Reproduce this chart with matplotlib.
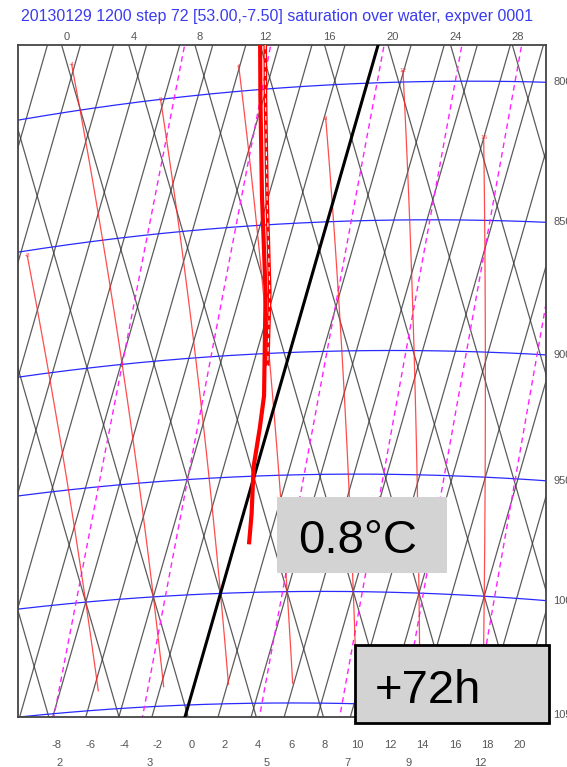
import numpy as np
import matplotlib
matplotlib.use("Agg")
import matplotlib.pyplot as plt
from matplotlib.patches import Rectangle

plt.rcParams['font.family'] = ['Liberation Sans', 'DejaVu Sans']

# ---------------- data ----------------
TITLE = "20130129 1200 step 72 [53.00,-7.50] saturation over water, expver 0001"
isobar_values = [800, 850, 900, 950, 1000, 1050]
isobar_labels = ["800", "850", "900", "950", "1000", "1050"]
isotherm_values = list(range(-60, 62, 2))          # grid isotherms (degC)
dry_adiabat_values = list(range(-48, 80, 4))       # grid dry adiabats, theta (degC)
theta_label_values = [0, 4, 8, 12, 16, 20, 24, 28]
temp_label_values = [-8, -6, -4, -2, 0, 2, 4, 6, 8, 10, 12, 14, 16, 18, 20]
mixing_ratio_values = [2, 3, 5, 7, 9, 12]          # g/kg
sat_adiabat_values = [-8, -4, 0, 4, 8, 12, 16]     # theta_w (degC)
sat_adiabat_top_p = [852, 783, 800, 791, 812, 796, 820]
sat_adiabat_bottom_p = 1041
# solid thick profile
profile_p = [775, 803, 839, 876, 917, 930, 946, 966, 979]
profile_t = [-7.6, -6.2, -4.4, -2.5, -0.8, -0.5, -0.2, 0.5, 0.87]
# dashed thick profile (upper part, slightly warmer)
profile2_p = [775, 803, 839, 876, 905]
profile2_t = [-7.3, -5.9, -4.1, -2.25, -1.1]
freezing_t = 0.0
surface_text = "0.8°C"
step_text = "+72h"

# ---------------- tephigram geometry ----------------
A_T, B_PHI, C_T, D_PHI = 8.3, 8.42, -28.65, 29.3
X0, Y0 = 202.5, 123.6


def phi_of(T, p):
    TK = np.asarray(T, float) + 273.15
    theta = TK * (1000.0 / np.asarray(p, float)) ** 0.2857
    return 273.15 * np.log(theta / 273.15)


def phi_theta(theta_c):
    return 273.15 * np.log((theta_c + 273.15) / 273.15)


def xy_tphi(T, phi):
    T = np.asarray(T, float)
    phi = np.asarray(phi, float)
    return X0 + A_T * T + B_PHI * phi, Y0 + C_T * T + D_PHI * phi


def xy(T, p):
    return xy_tphi(T, phi_of(T, p))


def dewpoint_from_w(w, p):
    es = w * np.asarray(p, float) / (622.0 + w)
    l = np.log(es / 6.112)
    return 243.5 * l / (17.67 - l)


def moist_profile(tw, p_out):
    def f(TK, p):
        es = 6.112 * np.exp(17.67 * (TK - 273.15) / (TK - 29.65))
        rs = 0.622 * es / (p - es)
        num = 287.04 * TK + 2.501e6 * rs
        den = 1005.7 + (2.501e6 ** 2) * rs * 0.622 / (287.04 * TK ** 2)
        return num / den / p

    def integrate(p_end):
        TK, p = tw + 273.15, 1000.0
        n = max(int(abs(p_end - 1000.0) / 1.0), 1)
        h = (p_end - 1000.0) / n
        for _ in range(n):
            k1 = f(TK, p)
            k2 = f(TK + h * k1 / 2, p + h / 2)
            k3 = f(TK + h * k2 / 2, p + h / 2)
            k4 = f(TK + h * k3, p + h)
            TK += h * (k1 + 2 * k2 + 2 * k3 + k4) / 6
            p += h
        return TK - 273.15

    return np.array([integrate(pp) for pp in p_out])


W, H = 567, 767
L, R, TOP, BOT = 18, 546, 45, 717
fig = plt.figure(figsize=(W / 100, H / 100), dpi=100)
ax = fig.add_axes([L / W, 1 - BOT / H, (R - L) / W, (BOT - TOP) / H])
XMAX, YMAX = R - L, BOT - TOP
ax.set_xlim(0, XMAX)
ax.set_ylim(0, YMAX)
ax.set_xticks([])
ax.set_yticks([])
for s in ax.spines.values():
    s.set_color('#444444')
    s.set_linewidth(1.3)

PX = 0.72  # points per pixel
LABEL_FS = 8
LABEL_C = '#555555'

# isotherms
phi_span = np.array([-80.0, 80.0])
for T in isotherm_values:
    x, y = xy_tphi(np.full(2, T), phi_span)
    ax.plot(x, y, color='#333333', lw=0.9, alpha=0.8, zorder=1)
# dry adiabats
t_span = np.array([-90.0, 70.0])
for th in dry_adiabat_values:
    x, y = xy_tphi(t_span, np.full(2, phi_theta(th)))
    ax.plot(x, y, color='#333333', lw=0.9, alpha=0.8, zorder=1)

# isobars
t_grid = np.linspace(-60, 50, 400)
for pv, lab in zip(isobar_values, isobar_labels):
    x, y = xy(t_grid, np.full_like(t_grid, pv))
    ax.plot(x, y, color='#2a2aff', lw=0.9, zorder=2)
    yr = np.interp(XMAX, x, y)
    ax.annotate(lab, (XMAX, yr), xytext=(7 * PX, 0), textcoords='offset points',
                ha='left', va='center', fontsize=LABEL_FS, color=LABEL_C,
                annotation_clip=False)

# mixing ratio lines
p_grid = np.linspace(700, 1100, 200)
for w in mixing_ratio_values:
    td = dewpoint_from_w(w, p_grid)
    x, y = xy(td, p_grid)
    ax.plot(x, y, color='#ff22ff', lw=1.0, ls=(0, (4, 3)), zorder=2)
    tb = dewpoint_from_w(w, 1050.0)
    xb, _ = xy(tb, 1050.0)
    ax.annotate(str(w), (xb, 0), xytext=(5 * PX, -46 * PX), textcoords='offset points',
                ha='center', va='center', fontsize=LABEL_FS, color=LABEL_C,
                annotation_clip=False)

# saturated adiabats
for tw, ptop in zip(sat_adiabat_values, sat_adiabat_top_p):
    pp = np.linspace(ptop, sat_adiabat_bottom_p, 60)
    tt = moist_profile(tw, pp)
    x, y = xy(tt, pp)
    ax.plot(x, y, color='#ff2020', lw=0.9, alpha=0.8, zorder=3)
    ax.text(x[0], y[0], str(tw), color='#ff2020', fontsize=4.5, ha='center',
            va='center', zorder=3, clip_on=True, alpha=0.8)

# freezing isotherm
x, y = xy_tphi(np.full(2, freezing_t), phi_span)
ax.plot(x, y, color='black', lw=2.2, zorder=4)

# temperature profiles
x, y = xy(np.array(profile_t), np.array(profile_p))
ax.plot(x, y, color='#ff0000', lw=3.0, zorder=5, solid_capstyle='butt')
x2, y2 = xy(np.array(profile2_t), np.array(profile2_p))
ax.plot(x2, y2, color='#ff0000', lw=2.6, zorder=5, solid_capstyle='butt')
ax.plot(x2, y2, color='white', lw=0.8, ls=(0, (4, 4)), zorder=6)

# theta labels along top
for th in theta_label_values:
    ph = phi_theta(th)
    T = (YMAX - Y0 - D_PHI * ph) / C_T
    xt, _ = xy_tphi(T, ph)
    ax.annotate(str(th), (xt, YMAX), xytext=(5 * PX, 8 * PX), textcoords='offset points',
                ha='center', va='center', fontsize=LABEL_FS, color=LABEL_C,
                annotation_clip=False)

# temperature labels along bottom
for T in temp_label_values:
    xb, _ = xy(T, 1050.0)
    ax.annotate(str(T), (xb, 0), xytext=(3 * PX, -28 * PX), textcoords='offset points',
                ha='center', va='center', fontsize=LABEL_FS, color=LABEL_C,
                annotation_clip=False)

fig.text(277 / W, 1 - 17 / H, TITLE, ha='center', va='center', fontsize=11.5,
         color='#3b3bef')

# overlay boxes
fig.add_artist(Rectangle((277 / W, 1 - 573 / H), 170 / W, 76 / H,
                         transform=fig.transFigure, facecolor='#d3d3d3',
                         edgecolor='none', zorder=10))
fig.text(298 / W, 1 - 553 / H, surface_text, fontsize=34, ha='left', va='baseline',
         color='black', zorder=11)
fig.add_artist(Rectangle((355 / W, 1 - 723 / H), 194 / W, 78 / H,
                         transform=fig.transFigure, facecolor='#d3d3d3',
                         edgecolor='black', lw=2, zorder=10))
fig.text(375 / W, 1 - 703 / H, step_text, fontsize=34, ha='left', va='baseline',
         color='black', zorder=11)

fig.savefig('out.png', dpi=100)
